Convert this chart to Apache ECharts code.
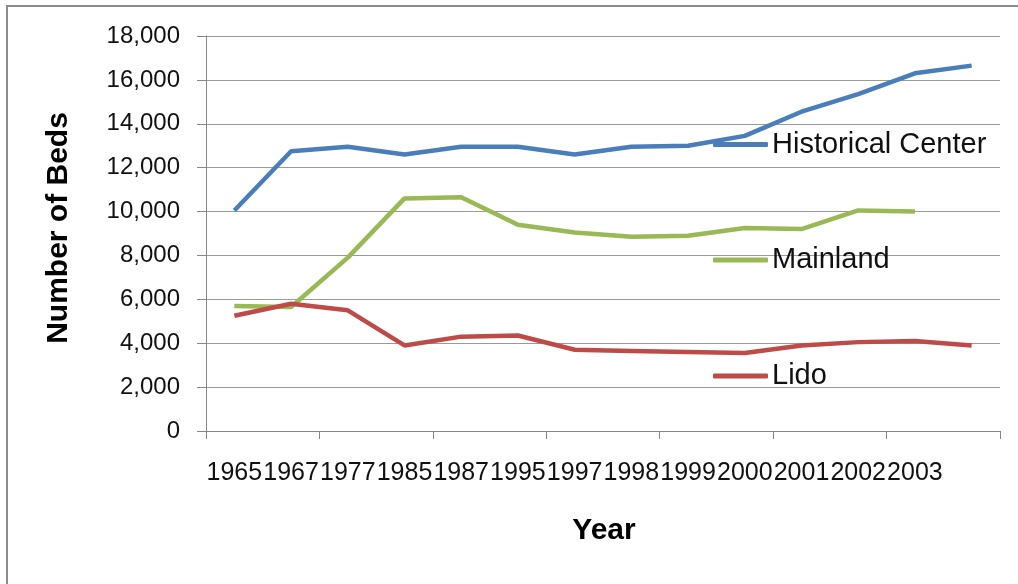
<!DOCTYPE html>
<html>
<head>
<meta charset="utf-8">
<script src="https://cdn.jsdelivr.net/npm/echarts@6/dist/echarts.min.js"></script>
<style>
  html, body { margin: 0; padding: 0; background: #ffffff; }
  #chart { width: 1018px; height: 584px; }
</style>
</head>
<body>
<div id="chart"></div>
<script>
// Hotel beds by area of Venice
const years = ['1965', '1967', '1977', '1985', '1987', '1995', '1997', '1998', '1999', '2000', '2001', '2002', '2003', ''];
const historicalCenter = [10050, 12750, 12950, 12600, 12950, 12950, 12600, 12950, 13000, 13450, 14550, 15350, 16300, 16650];
const mainland = [5700, 5650, 7900, 10600, 10650, 9400, 9050, 8850, 8900, 9250, 9200, 10050, 10000];
const lido = [5250, 5800, 5500, 3900, 4300, 4350, 3700, 3650, 3600, 3550, 3900, 4050, 4100, 3900];
const yTicks = { min: 0, max: 18000, step: 2000 };

const FONT = 'Liberation Sans';
const COLORS = { hc: '#4A7EBB', ml: '#98B954', li: '#BE4B48' };

function legendAt(name, top) {
  return {
    data: [name],
    left: 713,
    top: top,
    padding: 0,
    itemWidth: 55,
    itemHeight: 5,
    icon: 'roundRect',
    selectedMode: false,
    textStyle: { fontFamily: FONT, fontSize: 29, color: '#111', lineHeight: 32, padding: [2, 0, 0, -1] }
  };
}

const chart = echarts.init(document.getElementById('chart'), null, { renderer: 'canvas' });
chart.setOption({
  animation: false,
  backgroundColor: '#ffffff',
  grid: { left: 206, right: 18, top: 36, bottom: 153, containLabel: false },
  legend: [
    legendAt('Historical Center', 127.5),
    legendAt('Mainland', 243),
    legendAt('Lido', 359)
  ],
  xAxis: {
    type: 'category',
    data: years,
    boundaryGap: true,
    axisLine: { lineStyle: { color: '#868686', width: 1 } },
    // a tick mark between every second year
    axisTick: { show: true, interval: idx => idx % 2 === 0, length: 8, lineStyle: { color: '#868686' } },
    axisLabel: { interval: 0, margin: 30, fontFamily: FONT, fontSize: 25, color: '#111' },
    splitLine: { show: false }
  },
  yAxis: {
    type: 'value',
    min: yTicks.min,
    max: yTicks.max,
    interval: yTicks.step,
    axisLine: { show: true, lineStyle: { color: '#868686', width: 1 } },
    axisTick: { show: true, length: 9, lineStyle: { color: '#868686' } },
    axisLabel: {
      margin: 26, fontFamily: FONT, fontSize: 24, color: '#111',
      formatter: v => v.toLocaleString('en-US')
    },
    splitLine: { show: true, lineStyle: { color: '#9a9a9a', width: 1 } }
  },
  graphic: [
    {
      type: 'polyline', silent: true,
      shape: { points: [[7, 590], [7, 6], [1030, 6]] },
      style: { stroke: '#8c8c8c', lineWidth: 2, fill: null }
    },
    {
      type: 'text', silent: true, x: 59, y: 228, rotation: Math.PI / 2,
      style: { text: 'Number of Beds', font: 'bold 30px "Liberation Sans"', fill: '#000', align: 'center', verticalAlign: 'middle' }
    },
    {
      type: 'text', silent: true, x: 604, y: 531,
      style: { text: 'Year', font: 'bold 30px "Liberation Sans"', fill: '#000', align: 'center', verticalAlign: 'middle' }
    }
  ],
  series: [
    { name: 'Historical Center', type: 'line', data: historicalCenter, symbol: 'none', color: COLORS.hc,
      lineStyle: { width: 4.5, color: COLORS.hc } },
    { name: 'Mainland', type: 'line', data: mainland, symbol: 'none', color: COLORS.ml,
      lineStyle: { width: 4.5, color: COLORS.ml } },
    { name: 'Lido', type: 'line', data: lido, symbol: 'none', color: COLORS.li,
      lineStyle: { width: 4.5, color: COLORS.li } }
  ]
});
</script>
</body>
</html>
